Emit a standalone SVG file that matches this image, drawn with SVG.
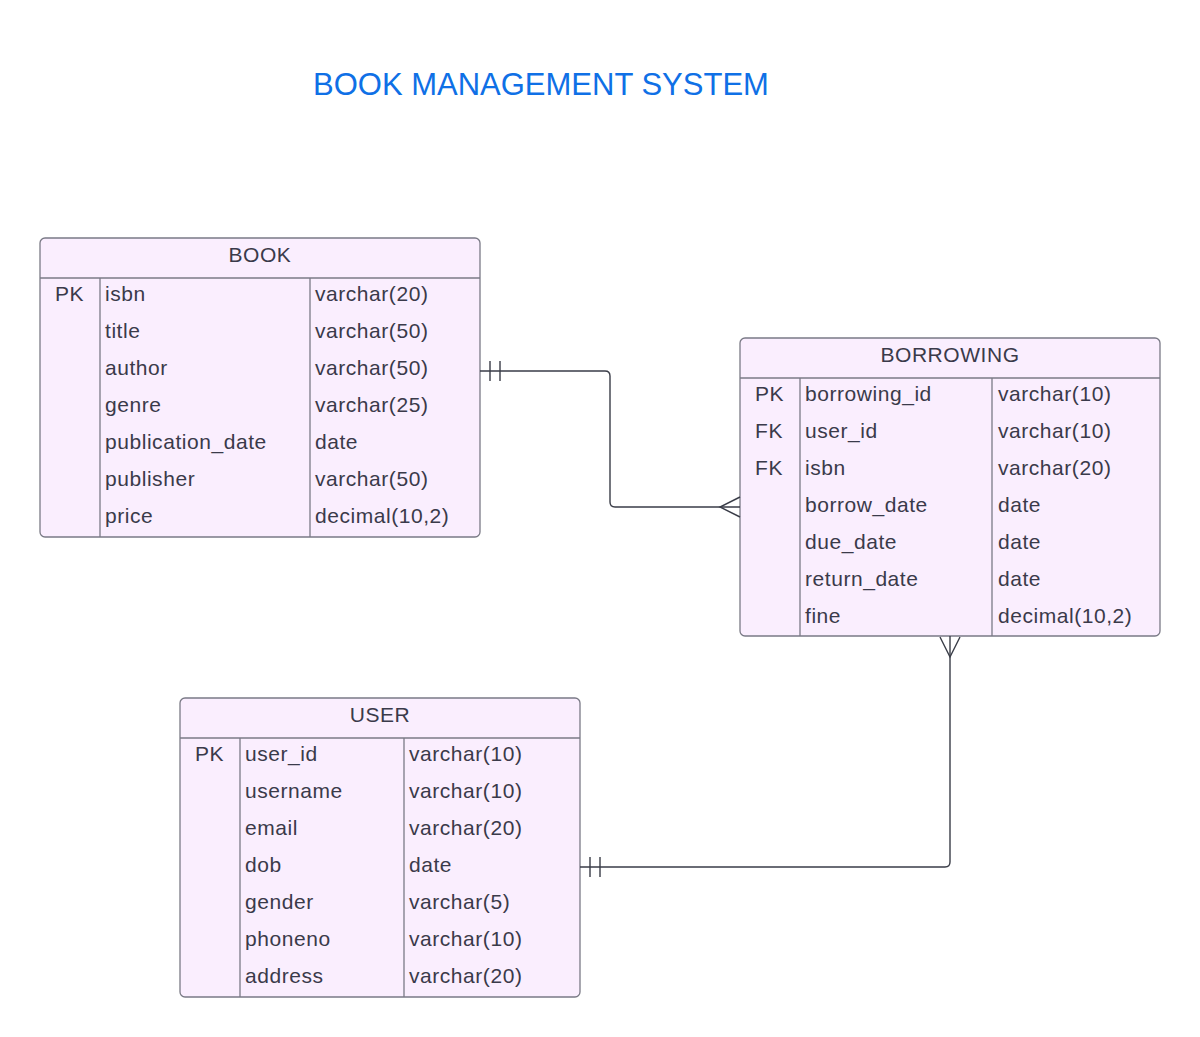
<svg xmlns="http://www.w3.org/2000/svg" width="1200" height="1037" viewBox="0 0 1200 1037">
<style>
.box{fill:#faeefe;stroke:#7a7a86;stroke-width:1.3}
.ln{stroke:#7a7a86;stroke-width:1.3;fill:none}
text{font-family:"Liberation Sans",Arial,sans-serif;font-size:21px;letter-spacing:0.55px;fill:#3a3a4a}
.hd{text-anchor:middle}
.title{font-size:31px;letter-spacing:0;fill:#0f70e6}
.cn{stroke:#3a3d48;stroke-width:1.4;fill:none}
</style>
<rect width="1200" height="1037" fill="#ffffff"/>
<text class="title" x="313" y="95">BOOK MANAGEMENT SYSTEM</text>

<g id="book">
<rect class="box" x="40" y="238" width="440" height="299" rx="5"/>
<line class="ln" x1="40" y1="278" x2="480" y2="278"/>
<line class="ln" x1="100" y1="278" x2="100" y2="537"/>
<line class="ln" x1="310" y1="278" x2="310" y2="537"/>
<text class="hd" x="260" y="262">BOOK</text>
<text x="55" y="301">PK</text><text x="105" y="301">isbn</text><text x="315" y="301">varchar(20)</text>
<text x="105" y="338">title</text><text x="315" y="338">varchar(50)</text>
<text x="105" y="375">author</text><text x="315" y="375">varchar(50)</text>
<text x="105" y="412">genre</text><text x="315" y="412">varchar(25)</text>
<text x="105" y="449">publication_date</text><text x="315" y="449">date</text>
<text x="105" y="486">publisher</text><text x="315" y="486">varchar(50)</text>
<text x="105" y="523">price</text><text x="315" y="523">decimal(10,2)</text>
</g>

<g id="borrowing">
<rect class="box" x="740" y="338" width="420" height="298" rx="5"/>
<line class="ln" x1="740" y1="378" x2="1160" y2="378"/>
<line class="ln" x1="800" y1="378" x2="800" y2="636"/>
<line class="ln" x1="992" y1="378" x2="992" y2="636"/>
<text class="hd" x="950" y="362">BORROWING</text>
<text x="755" y="401">PK</text><text x="805" y="401">borrowing_id</text><text x="998" y="401">varchar(10)</text>
<text x="755" y="438">FK</text><text x="805" y="438">user_id</text><text x="998" y="438">varchar(10)</text>
<text x="755" y="475">FK</text><text x="805" y="475">isbn</text><text x="998" y="475">varchar(20)</text>
<text x="805" y="512">borrow_date</text><text x="998" y="512">date</text>
<text x="805" y="549">due_date</text><text x="998" y="549">date</text>
<text x="805" y="586">return_date</text><text x="998" y="586">date</text>
<text x="805" y="623">fine</text><text x="998" y="623">decimal(10,2)</text>
</g>

<g id="user">
<rect class="box" x="180" y="698" width="400" height="299" rx="5"/>
<line class="ln" x1="180" y1="738" x2="580" y2="738"/>
<line class="ln" x1="240" y1="738" x2="240" y2="997"/>
<line class="ln" x1="404" y1="738" x2="404" y2="997"/>
<text class="hd" x="380" y="722">USER</text>
<text x="195" y="761">PK</text><text x="245" y="761">user_id</text><text x="409" y="761">varchar(10)</text>
<text x="245" y="798">username</text><text x="409" y="798">varchar(10)</text>
<text x="245" y="835">email</text><text x="409" y="835">varchar(20)</text>
<text x="245" y="872">dob</text><text x="409" y="872">date</text>
<text x="245" y="909">gender</text><text x="409" y="909">varchar(5)</text>
<text x="245" y="946">phoneno</text><text x="409" y="946">varchar(10)</text>
<text x="245" y="983">address</text><text x="409" y="983">varchar(20)</text>
</g>

<g id="connectors">
<path class="cn" d="M480 371 H605 Q610 371 610 376 V502 Q610 507 615 507 H740"/>
<path class="cn" d="M490 361 V381 M500 361 V381"/>
<path class="cn" d="M740 497 L720 507 L740 517"/>
<path class="cn" d="M950 636 V862 Q950 867 945 867 H580"/>
<path class="cn" d="M590 857 V877 M600 857 V877"/>
<path class="cn" d="M940 637 L950 657 L960 637"/>
</g>
</svg>
